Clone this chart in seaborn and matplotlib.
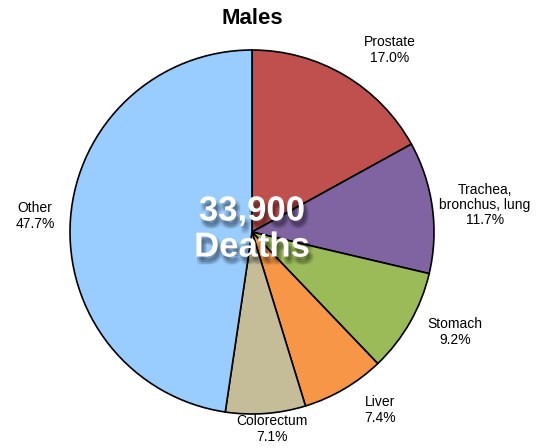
import matplotlib
matplotlib.use("Agg")
import matplotlib.pyplot as plt
import matplotlib.patheffects as pe
import seaborn as sns
import numpy as np

labels = ["Prostate", "Trachea,\nbronchus, lung", "Stomach", "Liver", "Colorectum", "Other"]
values = [17.0, 11.7, 9.2, 7.4, 7.1, 47.7]
colors = ["#C0504D", "#8064A2", "#9BBB59", "#F79646", "#C4BD97", "#99CCFF"]
title = "Males"
center_text = "33,900\nDeaths"

sns.set_theme(style="white")
plt.rcParams['font.family'] = ['Liberation Sans', 'DejaVu Sans']
plt.rcParams['text.color'] = 'black'

fig = plt.figure(figsize=(5.53, 4.48), dpi=100)
ax = fig.add_axes([0, 0, 1, 1])

cx, cy, r = 252, 448 - 232, 182
ax.pie(values, colors=colors, startangle=90, counterclock=False,
       center=(cx, cy), radius=r,
       wedgeprops=dict(edgecolor="black", linewidth=1.2), frame=True)
ax.set_xlim(0, 553)
ax.set_ylim(0, 448)
ax.set_aspect('equal')
ax.axis('off')

label_pos = [(390, 448 - 50), (485, 448 - 205), (455, 448 - 332),
             (380, 448 - 410), (272, 448 - 429), (35, 448 - 216)]
for lab, v, (x, y) in zip(labels, values, label_pos):
    ax.text(x, y, f"{lab}\n{v:.1f}%", ha="center", va="center", fontsize=10,
            linespacing=1.1, color="black")

ax.text(252, 448 - 18, title, ha="center", va="center", fontsize=16,
        fontweight="bold", color="black")

shadow = []
for dx in (-1.5, 0, 1.5):
    for dy in (-1.5, 0, 1.5):
        shadow.append(pe.SimplePatchShadow(offset=(2 + dx, -4 + dy),
                                           shadow_rgbFace="black", alpha=0.07))
shadow.append(pe.Normal())
ax.text(252, 448 - 229, center_text, ha="center", va="center", fontsize=25,
        fontweight="bold", color="white", linespacing=1.12,
        path_effects=shadow)

fig.savefig("out.png", dpi=100)
